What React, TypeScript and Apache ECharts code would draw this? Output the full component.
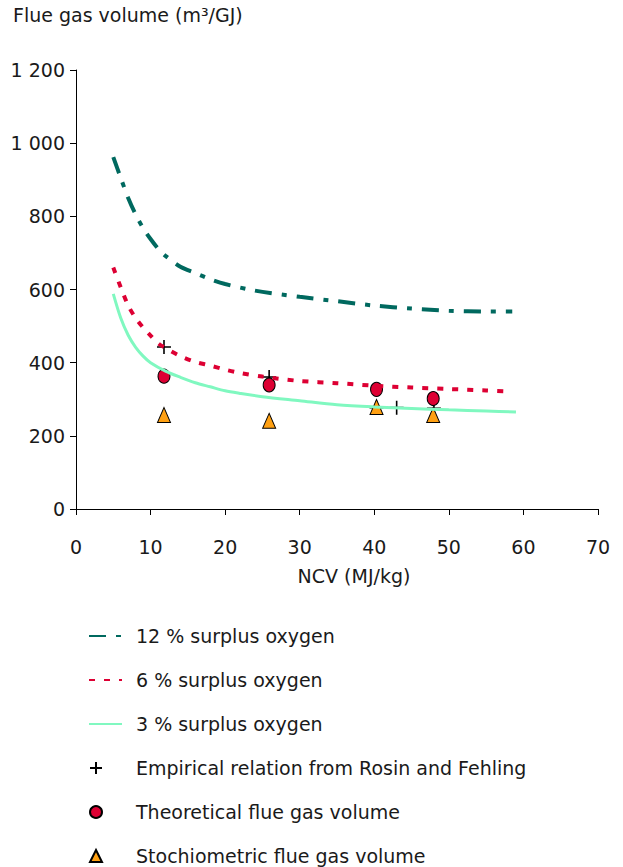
import React, { useEffect, useRef } from 'react';
import * as echarts from 'echarts';

// Flue gas volume against net calorific value (NCV)
const yTitle = 'Flue gas volume (m³/GJ)';
const xTitle = 'NCV (MJ/kg)';

const xTicks = [0, 10, 20, 30, 40, 50, 60, 70];
const yTicks = [0, 200, 400, 600, 800, 1000, 1200];

const seriesNames = [
  '12 % surplus oxygen',
  '6 % surplus oxygen',
  '3 % surplus oxygen',
  'Empirical relation from Rosin and Fehling',
  'Theoretical flue gas volume',
  'Stochiometric flue gas volume',
];

// 12 % surplus oxygen
const ncv12 = [5, 6, 7, 8, 9, 10, 11, 12, 14, 16, 18, 20, 24, 30, 35, 40, 45, 50, 55, 58.5];
const vol12 = [962, 905, 850, 805, 768, 738, 712, 692, 662, 645, 628, 615, 597, 580, 568, 556, 548, 542, 540, 540];

// 6 % surplus oxygen
const ncv6 = [5, 6, 7, 8, 9, 10, 11, 12, 14, 16, 18, 20, 22, 25, 30, 35, 40, 45, 50, 55, 57.5];
const vol6 = [660, 606, 556, 522, 496, 474, 453, 440, 418, 402, 392, 381, 372, 362, 350, 344, 337, 332, 328, 324, 322];

// 3 % surplus oxygen
const ncv3 = [5, 6, 7, 8, 9, 10, 12, 14, 16, 18, 20, 22, 25, 30, 35, 40, 45, 50, 55, 59];
const vol3 = [588, 522, 475, 442, 418, 400, 377, 360, 345, 334, 323, 316, 307, 296, 285, 279, 275, 271, 268, 265];

// Empirical relation (Rosin and Fehling)
const ncvRF = [11.8, 25.9, 40.3, 43.0, 48.0];
const volRF = [443, 361, 277, 277, 275];

// Theoretical flue gas volume
const ncvTh = [11.8, 25.9, 40.3, 47.9];
const volTh = [363, 339, 327, 302];

// Stochiometric flue gas volume
const ncvSt = [11.8, 25.9, 40.3, 47.9];
const volSt = [257, 241, 279, 257];

const pairs = (xs: number[], ys: number[]) => xs.map((x, i) => [x, ys[i]]);

const FONT = '"DejaVu Sans", Verdana, sans-serif';
const FS = 19;
const TEXT = '#1a1a1a';
const TEAL = '#00695f';
const RED = '#dd0033';
const MINT = '#80f8c0';
const ORANGE = '#ffa012';
const CROSS = 'path://M7,0V14M0,7H14';

const fmtThousands = (v: number) =>
  v >= 1000 ? `${Math.floor(v / 1000)} ${String(v % 1000).padStart(3, '0')}` : String(v);

const legendText = (padLeft: number) => ({
  fontFamily: FONT,
  fontSize: FS,
  color: TEXT,
  lineHeight: 22,
  padding: [0, 0, 0, padLeft],
});

const option: any = {
  animation: false,
  backgroundColor: '#fff',
  textStyle: { fontFamily: FONT },
  title: {
    text: yTitle,
    left: 13,
    top: 5,
    padding: 0,
    textStyle: { fontFamily: FONT, fontSize: FS, fontWeight: 'normal', color: TEXT },
  },
  grid: { left: 76, right: 25, top: 70, bottom: 358, containLabel: false },
  xAxis: {
    type: 'value',
    min: xTicks[0],
    max: xTicks[xTicks.length - 1],
    interval: xTicks[1] - xTicks[0],
    name: xTitle,
    nameLocation: 'middle',
    nameGap: 57,
    nameTextStyle: { fontFamily: FONT, fontSize: FS, color: TEXT, padding: [0, 0, 0, 34] },
    axisLine: { show: true, lineStyle: { color: '#000', width: 1 } },
    axisTick: { show: true, length: 6, inside: false, lineStyle: { color: '#000' } },
    axisLabel: { margin: 28, fontFamily: FONT, fontSize: FS, color: TEXT },
    splitLine: { show: false },
  },
  yAxis: {
    type: 'value',
    min: yTicks[0],
    max: yTicks[yTicks.length - 1],
    interval: yTicks[1] - yTicks[0],
    axisLine: { show: true, lineStyle: { color: '#000', width: 1 } },
    axisTick: { show: true, length: 6, inside: false, lineStyle: { color: '#000' } },
    axisLabel: { margin: 11, fontFamily: FONT, fontSize: FS, color: TEXT, formatter: fmtThousands },
    splitLine: { show: false },
  },
  legend: [
    {
      data: seriesNames.slice(0, 3),
      orient: 'vertical',
      left: 88,
      top: 625,
      itemWidth: 33,
      itemHeight: 14,
      itemGap: 22,
      padding: 0,
      selectedMode: false,
      // line icons only: hide the marker that line legends add by default
      itemStyle: { opacity: 0 },
      textStyle: legendText(9),
    },
    {
      data: seriesNames.slice(3),
      orient: 'vertical',
      left: 89,
      top: 757,
      itemWidth: 12,
      itemHeight: 12,
      itemGap: 22,
      padding: 0,
      selectedMode: false,
      textStyle: legendText(29),
    },
  ],
  series: [
    {
      name: seriesNames[0],
      type: 'line',
      data: pairs(ncv12, vol12),
      symbol: 'none',
      smooth: 0.3,
      lineStyle: { color: TEAL, width: 4, type: [17, 10, 5, 10], cap: 'butt' },
      itemStyle: { color: TEAL },
    },
    {
      name: seriesNames[1],
      type: 'line',
      data: pairs(ncv6, vol6),
      symbol: 'none',
      smooth: 0.3,
      lineStyle: { color: RED, width: 4, type: [6, 9], cap: 'butt' },
      itemStyle: { color: RED },
    },
    {
      name: seriesNames[2],
      type: 'line',
      data: pairs(ncv3, vol3),
      symbol: 'none',
      smooth: 0.3,
      lineStyle: { color: MINT, width: 3, type: 'solid' },
      itemStyle: { color: MINT },
    },
    {
      // white backing square behind each cross marker
      name: 'crossBacking',
      type: 'scatter',
      data: pairs(ncvRF, volRF),
      symbol: 'rect',
      symbolSize: 15,
      silent: true,
      itemStyle: { color: '#fff', borderWidth: 0, opacity: 1 },
    },
    {
      name: seriesNames[3],
      type: 'scatter',
      data: pairs(ncvRF, volRF),
      symbol: CROSS,
      symbolSize: 14,
      itemStyle: { color: 'rgba(0,0,0,0)', borderColor: '#000', borderWidth: 1.6, opacity: 1 },
    },
    {
      name: seriesNames[4],
      type: 'scatter',
      data: pairs(ncvTh, volTh),
      symbol: 'circle',
      symbolSize: [12, 14],
      itemStyle: { color: RED, borderColor: '#000', borderWidth: 1, opacity: 1 },
    },
    {
      name: seriesNames[5],
      type: 'scatter',
      data: pairs(ncvSt, volSt),
      symbol: 'triangle',
      symbolSize: [13, 15],
      itemStyle: { color: ORANGE, borderColor: '#000', borderWidth: 1, opacity: 1 },
    },
  ],
};

export default function App() {
  const ref = useRef<HTMLDivElement>(null);
  useEffect(() => {
    document.body.style.margin = '0';
    const chart = echarts.init(ref.current!, null, { renderer: 'svg' });
    chart.setOption(option);
    return () => chart.dispose();
  }, []);
  return <div ref={ref} style={{ width: 623, height: 867 }} />;
}
